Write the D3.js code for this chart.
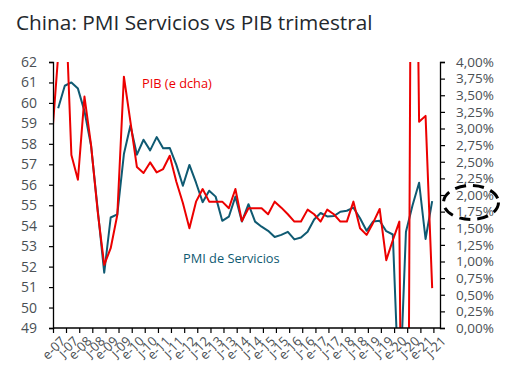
<!DOCTYPE html>
<html><head><meta charset="utf-8">
<script src="https://cdn.jsdelivr.net/npm/d3@7"></script>
<style>
html,body{margin:0;padding:0;background:#fff;}
svg{display:block;font-family:"Open Sans",sans-serif;}
</style></head>
<body><svg id="chart" width="507" height="380"></svg>
<script>
// ---- data ----
const title = "China: PMI Servicios vs PIB trimestral";
const pmiLabel = "PMI de Servicios";
const pibLabel = "PIB (e dcha)";
// quarterly PMI services, from Q1 2007
const pmiValues = [59.74,60.84,61.0,60.7,59.6,57.9,54.8,51.7,54.4,54.55,
  57.5,58.9,57.47,58.2,57.68,58.33,57.78,57.8,56.97,55.95,
  56.97,56.1,55.15,55.71,55.42,54.24,54.44,55.42,54.2,55.05,
  54.2,53.95,53.75,53.45,53.55,53.7,53.33,53.42,53.7,54.3,
  54.62,54.45,54.47,54.68,54.73,54.88,54.36,53.75,54.2,54.24,
  53.73,53.57,45.3,53.7,55.0,56.1,53.35,55.2];
// quarterly GDP q/q (%), plotted from the quarter before Q1 2007
const pibValues = [2.8,4.1,5.2,2.6,2.23,3.48,2.75,1.75,0.95,1.2,
  1.7,3.78,3.1,2.42,2.33,2.49,2.34,2.39,2.59,2.2,
  1.88,1.5,1.9,2.09,1.9,1.9,1.9,1.8,2.09,1.61,
  1.8,1.8,1.8,1.71,1.9,1.81,1.71,1.6,1.6,1.78,
  1.71,1.6,1.78,1.71,1.6,1.6,1.9,1.5,1.4,1.58,
  1.79,1.02,1.32,1.6,-9.8,11.5,3.1,3.19,0.6];
const xTickLabels = ["e-07","j-07","e-08","j-08","e-09","j-09","e-10","j-10",
  "e-11","j-11","e-12","j-12","e-13","j-13","e-14","j-14","e-15","j-15",
  "e-16","j-16","e-17","j-17","e-18","j-18","e-19","j-19","e-20","j-20","e-21","j-21"];
const leftTicks = [49,50,51,52,53,54,55,56,57,58,59,60,61,62];
const rightTicks = [0,0.25,0.5,0.75,1,1.25,1.5,1.75,2,2.25,2.5,2.75,3,3.25,3.5,3.75,4];

// ---- layout ----
const M = {left:53, right:440, top:62, bottom:328};
const svg = d3.select("#chart");
const firstQ = new Date(2007, 2, 14);
const pmiDates = pmiValues.map((v,i)=>d3.timeMonth.offset(firstQ, 3*i));
const pibDates = pibValues.map((v,i)=>d3.timeMonth.offset(firstQ, 3*(i-1)));

const x = d3.scaleTime().domain([new Date(2007,0,1), new Date(2021,9,1)]).range([M.left, M.right]);
const yL = d3.scaleLinear().domain([49,62]).range([M.bottom, M.top]);
const yR = d3.scaleLinear().domain([0,4]).range([M.bottom, M.top]);

const textCol = "#4a4f54";
const red = "#ec0000", blue = "#0f5a72";

svg.append("text").attr("x",16).attr("y",30).attr("fill","#23282d")
  .attr("font-size",20.8).text(title);

svg.append("clipPath").attr("id","clip").append("rect")
  .attr("x",M.left).attr("y",M.top).attr("width",M.right-M.left).attr("height",M.bottom-M.top);

const g = svg.append("g").attr("clip-path","url(#clip)");
g.append("path").datum(pmiValues.map((v,i)=>[pmiDates[i],v]))
  .attr("fill","none").attr("stroke",blue).attr("stroke-width",2).attr("stroke-linejoin","round")
  .attr("d", d3.line().x(d=>x(d[0])).y(d=>yL(d[1])));
g.append("path").datum(pibValues.map((v,i)=>[pibDates[i],v]))
  .attr("fill","none").attr("stroke",red).attr("stroke-width",2).attr("stroke-linejoin","round")
  .attr("d", d3.line().x(d=>x(d[0])).y(d=>yR(d[1])));

// axes
const axL = svg.append("g").attr("transform",`translate(${M.left},0)`)
  .call(d3.axisLeft(yL).tickValues(leftTicks).tickSize(4).tickPadding(12).tickFormat(d3.format("d")));
const fmtR = d=>d.toFixed(2).replace(".",",")+"%";
const axR = svg.append("g").attr("transform",`translate(${M.right},0)`)
  .call(d3.axisRight(yR).tickValues(rightTicks).tickSize(5).tickPadding(11).tickFormat(fmtR));
const xTicks = xTickLabels.map((t,i)=>d3.timeMonth.offset(new Date(2007,0,1), 6*i));
const axB = svg.append("g").attr("transform",`translate(0,${M.bottom})`)
  .call(d3.axisBottom(x).tickValues(xTicks).tickSize(5).tickFormat((d,i)=>xTickLabels[i]));
axB.selectAll("text").attr("text-anchor","end").attr("dy","0.35em")
  .attr("transform","translate(4,5) rotate(-45)").attr("x",0).attr("y",8);

[axL,axR,axB].forEach(a=>{
  a.select(".domain").attr("stroke","#000").attr("stroke-width",1.3);
  a.selectAll(".tick line").attr("stroke","#000").attr("stroke-width",1.2);
  a.selectAll("text").attr("fill",textCol).attr("font-family","Open Sans, sans-serif");
});
axL.selectAll("text").attr("font-size",14);
axR.selectAll("text").attr("font-size",13.5);
axB.selectAll("text").attr("font-size",13);
axB.select(".domain").attr("d",`M${M.left},0H${M.right}`);

// series labels
svg.append("text").attr("x",142).attr("y",88).attr("fill",red).attr("font-size",12.8).text(pibLabel);
svg.append("text").attr("x",183).attr("y",263).attr("fill",blue).attr("font-size",12.8).text(pmiLabel);

// dashed ellipse annotation
svg.append("ellipse").attr("cx",471).attr("cy",202.5).attr("rx",27.5).attr("ry",17)
  .attr("fill","none").attr("stroke","#000").attr("stroke-width",3).attr("stroke-dasharray","11,7");
</script></body></html>
